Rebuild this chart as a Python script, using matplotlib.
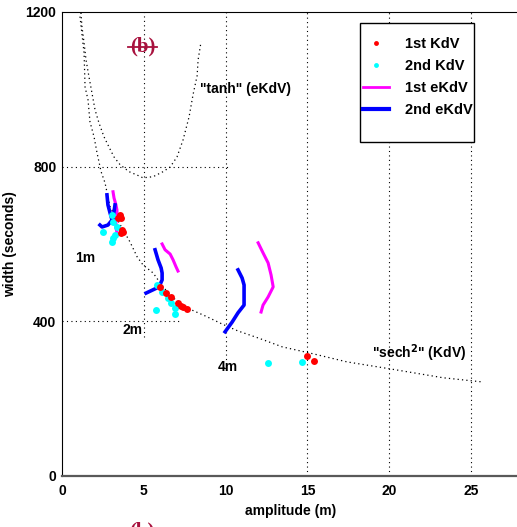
import numpy as np
import matplotlib.pyplot as plt
from matplotlib.patches import Rectangle

plt.rcParams['font.family'] = ['Liberation Sans', 'DejaVu Sans']

# theoretical curves (amplitude m, width s)
kdv_amp = [1.10, 1.35, 1.41, 1.59, 1.71, 1.96, 2.14, 2.39, 2.63, 2.94, 4.16,
           4.59, 4.95, 5.57, 6.18, 6.73, 7.52, 8.75, 9.79, 10.76, 11.99,
           13.46, 15.35, 17.43, 20.06, 23.30, 25.75]
kdv_width = [1188, 1094, 1006, 973, 916, 877, 836, 787, 758, 696, 605,
             567, 546, 525, 489, 463, 437, 414, 393, 375, 357,
             334, 316, 295, 277, 254, 243]

tanh_amp = [1.16, 1.22, 1.35, 1.47, 1.65, 1.83, 2.02, 2.26, 2.57, 2.87, 3.18,
            3.55, 4.10, 4.71, 4.95, 5.57, 6.18, 6.61, 7.03, 7.40, 7.77,
            8.01, 8.26, 8.32, 8.50]
tanh_width = [1198, 1162, 1120, 1076, 1032, 991, 947, 913, 877, 851, 825,
              805, 787, 776, 771, 774, 787, 799, 825, 869, 929,
              986, 1035, 1076, 1123]

# 1st eKdV runs
ekdv1_1m_amp = [3.12, 3.18, 3.30, 3.36, 3.36, 3.30, 3.30, 3.36]
ekdv1_1m_width = [735, 719, 701, 688, 675, 657, 642, 629]
ekdv1_2m_amp = [6.12, 6.30, 6.61, 6.79, 6.97, 7.09]
ekdv1_2m_width = [600, 585, 574, 559, 541, 530]
ekdv1_4m_amp = [11.99, 12.29, 12.60, 12.78, 12.91, 12.60, 12.29, 12.17]
ekdv1_4m_width = [603, 577, 551, 520, 489, 463, 442, 424]

# 2nd eKdV runs
ekdv2_1m_amp = [2.75, 2.81, 2.94, 3.06, 2.81, 2.45, 2.32]
ekdv2_1m_width = [727, 701, 680, 662, 649, 644, 649]
ekdv2_1m_b_amp = [3.24, 3.12]
ekdv2_1m_b_width = [701, 665]
ekdv2_2m_amp = [5.69, 5.87, 6.06, 6.12, 6.12, 5.93, 5.69, 5.14]
ekdv2_2m_width = [585, 559, 538, 525, 507, 489, 484, 473]
ekdv2_4m_amp = [10.76, 11.01, 11.13, 11.13, 11.13, 10.76, 10.40, 9.97]
ekdv2_4m_width = [533, 512, 494, 463, 442, 422, 398, 373]

# KdV runs
kdv1_amp = [3.43, 3.55, 3.61, 3.67, 3.73, 3.61,
            5.99, 6.36, 6.67, 7.09, 7.28, 7.40, 7.65,
            14.98, 15.41]
kdv1_width = [668, 675, 668, 636, 631, 629,
              489, 473, 463, 448, 440, 437, 432,
              310, 298]
kdv2_amp = [3.06, 3.12, 3.36, 2.51, 3.24, 3.12, 3.06,
            5.81, 6.12, 6.48, 6.67, 6.91, 6.91, 5.75,
            12.60, 14.68]
kdv2_width = [675, 657, 644, 631, 624, 616, 605,
              494, 476, 461, 448, 435, 419, 429,
              292, 295]

fig = plt.figure(figsize=(5.17, 5.27), dpi=100)
ax = fig.add_axes([0.1199, 0.0968, 0.886, 0.8805])

# partial dotted grid
grid_kw = dict(colors='k', linestyles=(0, (1, 3)), linewidth=0.8)
ax.vlines(5, 360, 1200, **grid_kw)
ax.vlines(10, 290, 1200, **grid_kw)
ax.vlines([15, 20, 25], 0, 1200, **grid_kw)
ax.hlines(800, 0, 10.3, **grid_kw)
ax.hlines(400, 0, 7.3, **grid_kw)

curve_ls = (0, (1, 2.5))
ax.plot(kdv_amp, kdv_width, color='k', ls=curve_ls, lw=0.9)
ax.plot(tanh_amp, tanh_width, color='k', ls=curve_ls, lw=0.9)

for a, w in [(ekdv1_1m_amp, ekdv1_1m_width), (ekdv1_2m_amp, ekdv1_2m_width),
             (ekdv1_4m_amp, ekdv1_4m_width)]:
    ln_e1, = ax.plot(a, w, color='#ff00ff', lw=2.2)
for a, w in [(ekdv2_1m_amp, ekdv2_1m_width), (ekdv2_1m_b_amp, ekdv2_1m_b_width),
             (ekdv2_2m_amp, ekdv2_2m_width), (ekdv2_4m_amp, ekdv2_4m_width)]:
    ln_e2, = ax.plot(a, w, color='#0000ff', lw=2.6)

ln_k2, = ax.plot(kdv2_amp, kdv2_width, ls='none', marker='o', ms=5,
                 color='#00ffff', mec='none')
ln_k1, = ax.plot(kdv1_amp, kdv1_width, ls='none', marker='o', ms=5,
                 color='#ff0000', mec='none')

ax.set_xlim(0, 28)
ax.set_ylim(0, 1200)
ax.set_xticks([0, 5, 10, 15, 20, 25])
ax.set_yticks([0, 400, 800, 1200])
ax.tick_params(length=0, labelsize=10)
ax.tick_params(axis='x', pad=6)
ax.tick_params(axis='y', pad=4)
for lab in ax.get_xticklabels() + ax.get_yticklabels():
    lab.set_fontweight('bold')
ax.spines['right'].set_visible(False)
ax.spines['bottom'].set_color('0.35')
ax.spines['bottom'].set_linewidth(1.6)

ax.set_xlabel('amplitude (m)', fontsize=10, fontweight='bold', labelpad=4)
ax.set_ylabel('width (seconds)', fontsize=10, fontweight='bold', labelpad=6)

txt_kw = dict(fontsize=10, fontweight='bold')
ax.text(0.8, 564, '1m', va='center', **txt_kw)
ax.text(3.67, 378, '2m', va='center', **txt_kw)
ax.text(9.54, 282, '4m', va='center', **txt_kw)
ax.text(8.44, 1001, '"tanh" (eKdV)', va='center', **txt_kw)
ax.text(18.96, 318, '"sech$^{\\mathbf{2}}$" (KdV)', va='center', **txt_kw)

# panel tag
crimson = '#a8123e'
ax.text(4.92, 1110, '(b)', color=crimson, fontsize=15, fontweight='bold',
        family='Liberation Serif', ha='center', va='center')
ax.plot([4.04, 5.81], [1110, 1110], color=crimson, lw=1.3)
fig.text(142 / 517, -0.008, '(b)', color=crimson, fontsize=15,
         fontweight='bold', family='Liberation Serif', ha='center', va='center')

# legend
fig.patches.append(Rectangle((360 / 517, 1 - 142 / 527), 114 / 517, 119 / 527,
                             transform=fig.transFigure, fill=True,
                             facecolor='white', edgecolor='k', lw=1.0,
                             zorder=5))
leg = fig.legend([ln_k1, ln_k2, ln_e1, ln_e2],
                 ['1st KdV', '2nd KdV', '1st eKdV', '2nd eKdV'],
                 loc='upper left', bbox_to_anchor=(363 / 517, 1 - 37 / 527),
                 frameon=False, borderpad=0, borderaxespad=0,
                 handlelength=1.8, handletextpad=1.05, labelspacing=0.55,
                 markerscale=0.7, prop=dict(size=10.5, weight='bold'))
leg.set_zorder(6)
leg.legend_handles[2].set_linewidth(2.0)
leg.legend_handles[3].set_linewidth(3.0)

plt.savefig('out.png', dpi=100)
